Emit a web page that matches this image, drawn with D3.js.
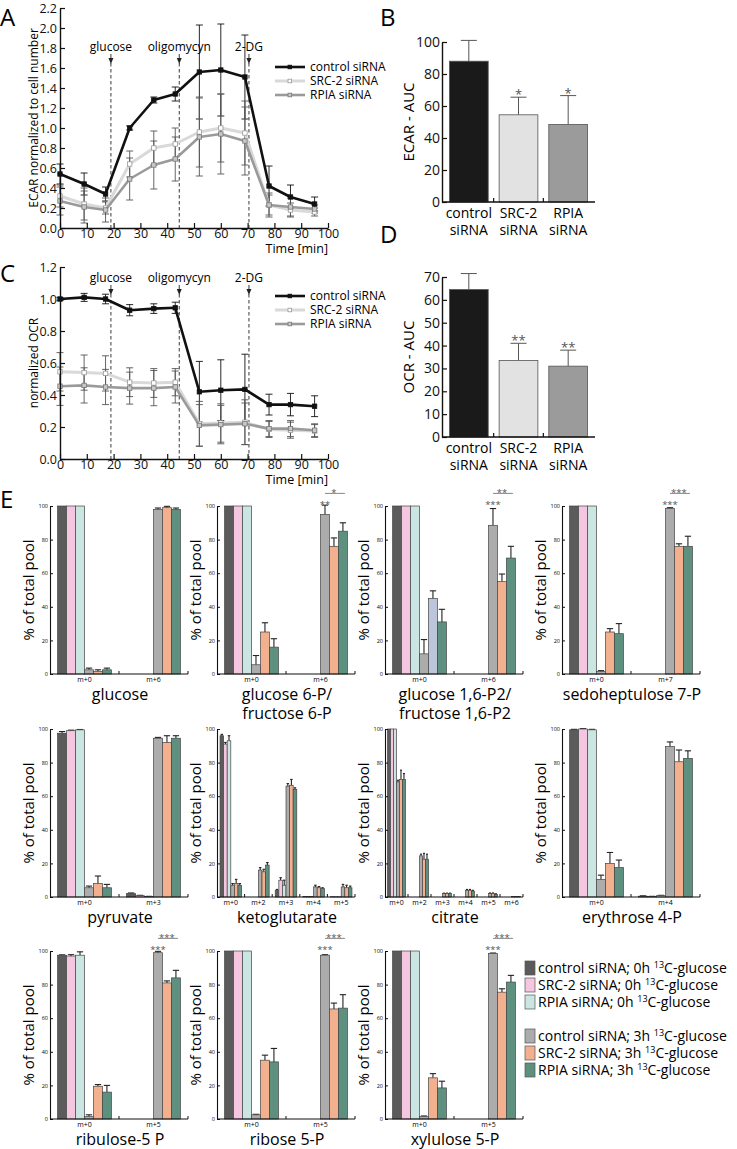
<!DOCTYPE html>
<html>
<head>
<meta charset="utf-8">
<script src="https://cdn.jsdelivr.net/npm/d3@7"></script>
<style>
body { margin: 0; background: #fff; }
svg { display: block; font-family: "Open Sans", sans-serif; }
</style>
</head>
<body>
<svg id="fig" width="737" height="1149"></svg>
<script>
// ---- panels A and C: Seahorse time courses ----
var timeMin = [0, 9, 17, 26, 35, 43, 52, 60, 69, 78, 86, 95];
var seriesNames = ["control siRNA", "SRC-2 siRNA", "RPIA siRNA"];
var injectionNames = ["glucose", "oligomycyn", "2-DG"];
var injectionTimes = [19, 44.5, 70.5];

var ecarControl = [0.54, 0.44, 0.34, 1.0, 1.28, 1.34, 1.56, 1.58, 1.51, 0.42, 0.31, 0.24];
var ecarControlErr = [0.10, 0.11, 0.07, 0.02, 0.03, 0.07, 0.47, 0.46, 0.42, 0.20, 0.12, 0.07];
var ecarSrc2 = [0.32, 0.24, 0.20, 0.64, 0.80, 0.84, 0.96, 1.00, 0.95, 0.23, 0.18, 0.16];
var ecarSrc2Err = [0.11, 0.16, 0.06, 0.13, 0.17, 0.16, 0.35, 0.34, 0.32, 0.10, 0.07, 0.04];
var ecarRpia = [0.27, 0.21, 0.18, 0.49, 0.63, 0.69, 0.91, 0.94, 0.87, 0.23, 0.21, 0.19];
var ecarRpiaErr = [0.14, 0.16, 0.12, 0.21, 0.24, 0.22, 0.39, 0.40, 0.34, 0.12, 0.09, 0.04];

var ocrControl = [1.0, 1.01, 1.0, 0.93, 0.94, 0.945, 0.42, 0.43, 0.435, 0.34, 0.34, 0.33];
var ocrControlErr = [0.01, 0.025, 0.03, 0.035, 0.03, 0.035, 0.19, 0.19, 0.22, 0.065, 0.07, 0.065];
var ocrSrc2 = [0.545, 0.54, 0.535, 0.48, 0.475, 0.48, 0.22, 0.225, 0.23, 0.185, 0.18, 0.175];
var ocrSrc2Err = [0.12, 0.11, 0.11, 0.09, 0.09, 0.085, 0.14, 0.12, 0.14, 0.05, 0.05, 0.04];
var ocrRpia = [0.455, 0.46, 0.45, 0.443, 0.443, 0.45, 0.21, 0.215, 0.22, 0.19, 0.19, 0.18];
var ocrRpiaErr = [0.12, 0.11, 0.11, 0.10, 0.11, 0.10, 0.13, 0.12, 0.13, 0.05, 0.05, 0.04];

// ---- panels B and D: area under curve ----
var ecarAuc = [88, 54.5, 48.5];
var ecarAucErr = [13, 11, 18];
var ecarAucSig = ["", "*", "*"];
var ocrAuc = [64.5, 33.5, 31];
var ocrAucErr = [7, 7.5, 7];
var ocrAucSig = ["", "**", "**"];

// ---- panel E: isotopologue distributions (% of total pool) ----
var conditionLabels = ["control siRNA; 0h ", "SRC-2 siRNA; 0h ", "RPIA siRNA; 0h ",
                       "control siRNA; 3h ", "SRC-2 siRNA; 3h ", "RPIA siRNA; 3h "];

var glucoseIso = ["m+0", "m+6"];
var glucoseMean = [[100, 100, 100, 2.5, 1.5, 2.5], [0, 0, 0, 98, 99, 98]];
var glucoseErr = [[0, 0, 0, 1, 1, 1], [0, 0, 0, 0.8, 0.8, 0.8]];

var g6pIso = ["m+0", "m+6"];
var g6pMean = [[100, 100, 100, 5.5, 25, 16], [0, 0, 0, 95, 76, 85]];
var g6pErr = [[0, 0, 0, 5.5, 5.5, 5], [0, 0, 0, 5.5, 5, 5]];
var g6pSig = ["**", "*"];

var f16Iso = ["m+0", "m+6"];
var f16Mean = [[100, 100, 100, 12, 45, 31], [0, 0, 0, 88.5, 55, 69]];
var f16Err = [[0, 0, 0, 8.5, 4.5, 7.5], [0, 0, 0, 10, 4.5, 7]];
var f16Sig = ["***", "**"];

var s7pIso = ["m+0", "m+7"];
var s7pMean = [[100, 100, 100, 1.5, 25, 24], [0, 0, 0, 98.5, 76, 76]];
var s7pErr = [[0, 0, 0, 0.5, 2, 6], [0, 0, 0, 0.5, 1.5, 6]];
var s7pSig = ["***", "***"];

var pyruvateIso = ["m+0", "m+3"];
var pyruvateMean = [[97.5, 99, 99.5, 5.5, 8, 5.5], [2, 0.8, 0.3, 94.5, 92, 94.5]];
var pyruvateErr = [[1, 0.3, 0.2, 1, 4.5, 2], [0.4, 0.2, 0.1, 0.5, 4, 1.5]];

var akgIso = ["m+0", "m+2", "m+3", "m+4", "m+5"];
var akgMean = [[96, 91, 93, 7, 8, 7], [0, 0, 0, 16, 15, 19], [4, 10, 7, 66, 66.5, 64],
               [0.3, 0.3, 0.3, 6, 5.5, 5], [0.2, 0.2, 0.2, 6, 5.5, 5.5]];
var akgErr = [[0.8, 1, 3, 1, 2.5, 1], [0, 0, 0, 1.5, 1.5, 1.5], [0.5, 1.5, 3, 1.5, 3.5, 1],
              [0, 0, 0, 1, 0.7, 0.5], [0, 0, 0, 1.5, 1.5, 1]];

var citrateIso = ["m+0", "m+2", "m+3", "m+4", "m+5", "m+6"];
var citrateMean = [[100, 100, 100, 68.5, 70, 70], [0, 0, 0, 24.5, 22.5, 22.5], [0, 0, 0, 2, 2, 2],
                   [0, 0, 0, 4, 4, 3.5], [0, 0, 0, 2, 2, 1.5], [0, 0, 0, 0.3, 0.3, 0.3]];
var citrateErr = [[0, 0, 0, 1, 5.5, 3.5], [0, 0, 0, 1, 3.5, 3], [0, 0, 0, 0.3, 0.3, 0.3],
                  [0, 0, 0, 0.5, 0.5, 0.5], [0, 0, 0, 0.4, 0.4, 0.4], [0, 0, 0, 0, 0, 0]];

var e4pIso = ["m+0", "m+4"];
var e4pMean = [[99.5, 100, 99.5, 10.5, 20, 17.5], [0.5, 0.3, 0.8, 89.5, 80.5, 82.5]];
var e4pErr = [[0.3, 0.2, 0.3, 2.5, 6.5, 4.5], [0.2, 0.1, 0.2, 2.8, 7, 4.5]];

var ru5pIso = ["m+0", "m+5"];
var ru5pMean = [[97.5, 97, 97.5, 1.5, 19.5, 16], [0, 0, 0, 99, 81, 84]];
var ru5pErr = [[0.2, 0.8, 2, 1, 1, 4], [0, 0, 0, 0.8, 1.2, 4.5]];
var ru5pSig = ["***", "***"];

var r5pIso = ["m+0", "m+5"];
var r5pMean = [[100, 100, 100, 2.5, 35, 34], [0, 0, 0, 97.5, 65.5, 66]];
var r5pErr = [[0, 0, 0, 0.3, 3, 8], [0, 0, 0, 0.3, 3.5, 8]];
var r5pSig = ["***", "***"];

var x5pIso = ["m+0", "m+5"];
var x5pMean = [[100, 100, 100, 1.5, 24.5, 18.5], [0, 0, 0, 98.5, 75.5, 81.5]];
var x5pErr = [[0, 0, 0, 0.3, 2.5, 4], [0, 0, 0, 0.3, 2, 4]];
var x5pSig = ["***", "***"];

var svg = d3.select("#fig");

var lineStyles = [
  {stroke: "#111", width: 2.6, mFill: "#111", mStroke: "#111", err: "#111"},
  {stroke: "#d9d9d9", width: 3, mFill: "#fff", mStroke: "#999", err: "#555"},
  {stroke: "#9a9a9a", width: 2.6, mFill: "#c8c8c8", mStroke: "#777", err: "#555"}
];
var isoColors = ["#5b5b5b", "#f4c6df", "#cbe5e2", "#acacac", "#f3b08e", "#5e9080"];

function styleAxis(sel, size) {
  sel.attr("font-family", null).attr("font-size", size);
  sel.selectAll("text").attr("fill", "#111");
  sel.select(".domain").attr("stroke", "#111").attr("stroke-width", 1.4);
  sel.selectAll(".tick line").attr("stroke", "#111").attr("stroke-width", 1.2);
}

function panelLetter(txt, x, y) {
  svg.append("text").attr("x", x).attr("y", y).attr("font-size", 24).text(txt);
}

function drawTimePanel(top, bottom, yMax, yStep, series, ylabel, labelY, legendY) {
  var x = d3.scaleLinear().domain([0, 100]).range([60, 328]);
  var y = d3.scaleLinear().domain([0, yMax]).range([bottom, top]);
  var g = svg.append("g");

  // injection markers
  injectionTimes.forEach(function(t, i) {
    var xx = x(t);
    g.append("line").attr("x1", xx).attr("x2", xx).attr("y1", labelY + 12).attr("y2", bottom)
      .attr("stroke", "#222").attr("stroke-width", 0.9).attr("stroke-dasharray", "3.5,2.5");
    g.append("line").attr("x1", xx).attr("x2", xx).attr("y1", labelY + 3).attr("y2", labelY + 10)
      .attr("stroke", "#222").attr("stroke-width", 0.9);
    g.append("path").attr("d", "M" + (xx - 2.5) + "," + (labelY + 7) + "L" + (xx + 2.5) + "," + (labelY + 7) +
      "L" + xx + "," + (labelY + 13) + "Z").attr("fill", "#222");
    g.append("text").attr("x", xx).attr("y", labelY).attr("text-anchor", "middle")
      .attr("font-size", 12).text(injectionNames[i]);
  });

  // error bars
  series.forEach(function(s, si) {
    var st = lineStyles[si];
    s.vals.forEach(function(v, i) {
      var xx = x(timeMin[i]), lo = y(v - s.errs[i]), hi = y(v + s.errs[i]);
      g.append("line").attr("x1", xx).attr("x2", xx).attr("y1", lo).attr("y2", hi)
        .attr("stroke", st.err).attr("stroke-width", 0.9);
      [lo, hi].forEach(function(yy) {
        g.append("line").attr("x1", xx - 3.5).attr("x2", xx + 3.5).attr("y1", yy).attr("y2", yy)
          .attr("stroke", st.err).attr("stroke-width", 0.9);
      });
    });
  });

  // lines, drawn back to front
  var line = d3.line().x(function(d, i) { return x(timeMin[i]); }).y(function(d) { return y(d); });
  [1, 2, 0].forEach(function(si) {
    var s = series[si], st = lineStyles[si];
    g.append("path").attr("d", line(s.vals)).attr("fill", "none")
      .attr("stroke", st.stroke).attr("stroke-width", st.width).attr("stroke-linejoin", "round");
    s.vals.forEach(function(v, i) {
      g.append("rect").attr("x", x(timeMin[i]) - 2.2).attr("y", y(v) - 2.2).attr("width", 4.4).attr("height", 4.4)
        .attr("fill", st.mFill).attr("stroke", st.mStroke).attr("stroke-width", 0.8);
    });
  });

  // legend
  seriesNames.forEach(function(name, si) {
    var st = lineStyles[si], ly = legendY + si * 14;
    g.append("line").attr("x1", 275).attr("x2", 305).attr("y1", ly).attr("y2", ly)
      .attr("stroke", st.stroke).attr("stroke-width", st.width);
    g.append("rect").attr("x", 288).attr("y", ly - 1.8).attr("width", 3.6).attr("height", 3.6)
      .attr("fill", st.mFill).attr("stroke", st.mStroke).attr("stroke-width", 0.8);
    g.append("text").attr("x", 310).attr("y", ly + 4).attr("font-size", 12).text(name);
  });

  // axes
  var ya = g.append("g").attr("transform", "translate(60,0)")
    .call(d3.axisLeft(y).tickValues(d3.range(0, yMax + 0.001, yStep)).tickFormat(d3.format(".1f"))
      .tickSizeInner(-5).tickSizeOuter(0).tickPadding(3));
  styleAxis(ya, 12.5);
  var xa = g.append("g").attr("transform", "translate(0," + bottom + ")")
    .call(d3.axisBottom(x).tickValues(d3.range(0, 101, 10)).tickSizeInner(-5).tickSizeOuter(0).tickPadding(1));
  styleAxis(xa, 12.5);
  g.append("text").attr("x", 328).attr("y", bottom + 25).attr("text-anchor", "end")
    .attr("font-size", 12.5).text("Time [min]");
  g.append("text").attr("transform", "translate(38," + ((top + bottom) / 2) + ") rotate(-90)")
    .attr("text-anchor", "middle").attr("font-size", 12).text(ylabel);
}

function drawAucPanel(top, bottom, yMax, yStep, vals, errs, sig, ylabel, labelBase) {
  var x = d3.scaleBand().domain(seriesNames).range([442, 595]).paddingInner(0.22).paddingOuter(0.15);
  var y = d3.scaleLinear().domain([0, yMax]).range([bottom, top]);
  var g = svg.append("g");
  var fills = ["#1a1a1a", "#e2e2e2", "#9b9b9b"];
  seriesNames.forEach(function(name, i) {
    var cx = x(name) + x.bandwidth() / 2, tp = y(vals[i] + errs[i]);
    g.append("line").attr("x1", cx).attr("x2", cx).attr("y1", y(vals[i])).attr("y2", tp)
      .attr("stroke", "#555").attr("stroke-width", 1);
    g.append("line").attr("x1", cx - 8).attr("x2", cx + 8).attr("y1", tp).attr("y2", tp)
      .attr("stroke", "#555").attr("stroke-width", 1);
    g.append("rect").attr("x", x(name)).attr("y", y(vals[i])).attr("width", x.bandwidth())
      .attr("height", bottom - y(vals[i])).attr("fill", fills[i]).attr("stroke", "#555").attr("stroke-width", 0.8);
    if (sig[i]) {
      g.append("text").attr("x", cx).attr("y", tp + 2).attr("text-anchor", "middle")
        .attr("font-size", 13).attr("fill", "#555").text(sig[i]);
    }
    var parts = name.split(" ");
    g.append("text").attr("x", cx).attr("y", labelBase).attr("text-anchor", "middle").attr("font-size", 14).text(parts[0]);
    g.append("text").attr("x", cx).attr("y", labelBase + 17).attr("text-anchor", "middle").attr("font-size", 14).text(parts[1]);
  });
  // small ticks between bars
  [1, 2].forEach(function(i) {
    var tx = x(seriesNames[i]) - x.step() * 0.11;
    g.append("line").attr("x1", tx).attr("x2", tx).attr("y1", bottom).attr("y2", bottom - 4)
      .attr("stroke", "#111").attr("stroke-width", 1.2);
  });
  var ya = g.append("g").attr("transform", "translate(442,0)")
    .call(d3.axisLeft(y).tickValues(d3.range(0, yMax + 0.001, yStep)).tickSizeInner(-5).tickSizeOuter(0).tickPadding(2));
  styleAxis(ya, 14);
  g.append("line").attr("x1", 442).attr("x2", 595).attr("y1", bottom).attr("y2", bottom)
    .attr("stroke", "#111").attr("stroke-width", 1.4);
  g.append("text").attr("transform", "translate(414," + ((top + bottom) / 2) + ") rotate(-90)")
    .attr("text-anchor", "middle").attr("font-size", 15).text(ylabel);
}

function drawIsoPanel(x0, bottom, iso, means, errs, titleLines, sig) {
  var w = 138;
  var x = d3.scaleBand().domain(iso).range([x0, x0 + w]).paddingInner(0.22).paddingOuter(0.11);
  var sub = d3.scaleBand().domain(d3.range(6)).range([0, x.bandwidth()]);
  var y = d3.scaleLinear().domain([0, 100]).range([bottom, bottom - 168]);
  var g = svg.append("g");
  var bw = sub.bandwidth();

  iso.forEach(function(lab, gi) {
    means[gi].forEach(function(v, si) {
      var bx = x(lab) + sub(si), e = errs[gi][si];
      var fill = isoColors[si];
      if (titleLines[0] === "glucose 1,6-P2/" && gi === 0 && si === 4) fill = "#bcc5d9";
      if (e > 0) {
        g.append("line").attr("x1", bx + bw / 2).attr("x2", bx + bw / 2).attr("y1", y(v)).attr("y2", y(v + e))
          .attr("stroke", "#222").attr("stroke-width", 1.1);
        g.append("line").attr("x1", bx + bw * 0.15).attr("x2", bx + bw * 0.85).attr("y1", y(v + e)).attr("y2", y(v + e))
          .attr("stroke", "#222").attr("stroke-width", 1.1);
      }
      if (v > 0) {
        g.append("rect").attr("x", bx).attr("y", y(v)).attr("width", bw).attr("height", bottom - y(v))
          .attr("fill", fill).attr("stroke", "#444").attr("stroke-width", 0.7);
      }
    });
    g.append("text").attr("x", x(lab) + x.bandwidth() / 2).attr("y", bottom + 8)
      .attr("text-anchor", "middle").attr("font-size", 7).text(lab);
    var tx = x0 + x.step() * (gi + 1);
    g.append("line").attr("x1", tx).attr("x2", tx).attr("y1", bottom).attr("y2", bottom - 3)
      .attr("stroke", "#111").attr("stroke-width", 1);
  });

  if (sig) {
    var last = iso[iso.length - 1];
    var gx = x(last) + sub(3) + bw / 2, ox = x(last) + sub(4) + bw / 2, rx = x(last) + sub(5) + bw / 2;
    g.append("text").attr("x", gx).attr("y", y(100) + 1.5).attr("text-anchor", "middle")
      .attr("font-size", 9.5).attr("fill", "#555").text(sig[0]);
    g.append("line").attr("x1", gx).attr("x2", rx + 2).attr("y1", y(107.5)).attr("y2", y(107.5))
      .attr("stroke", "#888").attr("stroke-width", 1);
    g.append("text").attr("x", ox).attr("y", y(107.5) + 3).attr("text-anchor", "middle")
      .attr("font-size", 9.5).attr("fill", "#555").text(sig[1]);
  }

  var ya = g.append("g").attr("transform", "translate(" + x0 + ",0)")
    .call(d3.axisLeft(y).tickValues([0, 20, 40, 60, 80, 100]).tickSizeInner(-3).tickSizeOuter(0).tickPadding(2));
  ya.attr("font-family", null).attr("font-size", 5.5);
  ya.select(".domain").attr("stroke", "#111").attr("stroke-width", 1.1);
  ya.selectAll(".tick line").attr("stroke", "#111");
  g.append("line").attr("x1", x0).attr("x2", x0 + w).attr("y1", bottom).attr("y2", bottom)
    .attr("stroke", "#111").attr("stroke-width", 1.1);

  g.append("text").attr("transform", "translate(" + (x0 - 16) + "," + (bottom - 84) + ") rotate(-90)")
    .attr("text-anchor", "middle").attr("font-size", 15).text("% of total pool");
  titleLines.forEach(function(t, i) {
    g.append("text").attr("x", x0 + 70).attr("y", bottom + 26 + i * 18.5).attr("text-anchor", "middle")
      .attr("font-size", 16).text(t);
  });
}

// A
panelLetter("A", 0, 26);
drawTimePanel(8, 228, 2.2, 0.2, [
  {vals: ecarControl, errs: ecarControlErr},
  {vals: ecarSrc2, errs: ecarSrc2Err},
  {vals: ecarRpia, errs: ecarRpiaErr}
], "ECAR normalized to cell number", 51, 67);

// B
panelLetter("B", 380, 26);
drawAucPanel(42, 202, 100, 20, ecarAuc, ecarAucErr, ecarAucSig, "ECAR - AUC", 218);

// C
panelLetter("C", 0, 282);
drawTimePanel(267, 459, 1.2, 0.2, [
  {vals: ocrControl, errs: ocrControlErr},
  {vals: ocrSrc2, errs: ocrSrc2Err},
  {vals: ocrRpia, errs: ocrRpiaErr}
], "normalized OCR", 282, 296);

// D
panelLetter("D", 380, 243);
drawAucPanel(277, 437, 70, 10, ocrAuc, ocrAucErr, ocrAucSig, "OCR - AUC", 453);

// E
panelLetter("E", 0, 508);
var colX = [50, 217, 385, 562];
var rowB = [674, 897, 1119];
drawIsoPanel(colX[0], rowB[0], glucoseIso, glucoseMean, glucoseErr, ["glucose"], null);
drawIsoPanel(colX[1], rowB[0], g6pIso, g6pMean, g6pErr, ["glucose 6-P/", "fructose 6-P"], g6pSig);
drawIsoPanel(colX[2], rowB[0], f16Iso, f16Mean, f16Err, ["glucose 1,6-P2/", "fructose 1,6-P2"], f16Sig);
drawIsoPanel(colX[3], rowB[0], s7pIso, s7pMean, s7pErr, ["sedoheptulose 7-P"], s7pSig);
drawIsoPanel(colX[0], rowB[1], pyruvateIso, pyruvateMean, pyruvateErr, ["pyruvate"], null);
drawIsoPanel(colX[1], rowB[1], akgIso, akgMean, akgErr, ["ketoglutarate"], null);
drawIsoPanel(colX[2], rowB[1], citrateIso, citrateMean, citrateErr, ["citrate"], null);
drawIsoPanel(colX[3], rowB[1], e4pIso, e4pMean, e4pErr, ["erythrose 4-P"], null);
drawIsoPanel(colX[0], rowB[2], ru5pIso, ru5pMean, ru5pErr, ["ribulose-5 P"], ru5pSig);
drawIsoPanel(colX[1], rowB[2], r5pIso, r5pMean, r5pErr, ["ribose 5-P"], r5pSig);
drawIsoPanel(colX[2], rowB[2], x5pIso, x5pMean, x5pErr, ["xylulose 5-P"], x5pSig);

// legend for E
var leg = svg.append("g");
conditionLabels.forEach(function(lab, i) {
  var ly = 968 + i * 17 + (i > 2 ? 17 : 0);
  leg.append("rect").attr("x", 525).attr("y", ly - 7).attr("width", 10).attr("height", 14)
    .attr("fill", isoColors[i]).attr("stroke", "#555").attr("stroke-width", 0.7);
  var t = leg.append("text").attr("x", 538).attr("y", ly + 5).attr("font-size", 14);
  t.append("tspan").text(lab);
  t.append("tspan").attr("font-size", 9).attr("dy", -5).text("13");
  t.append("tspan").attr("dy", 5).text("C-glucose");
});
</script>
</body>
</html>
